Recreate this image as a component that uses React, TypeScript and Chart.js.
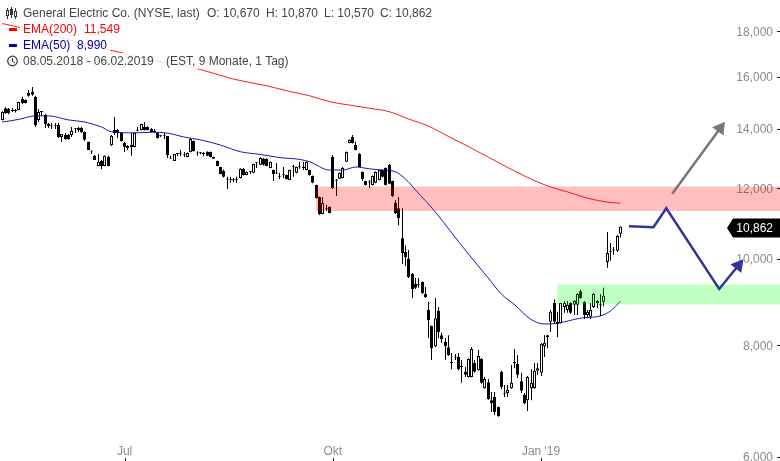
import React, { useEffect, useRef } from "react";
import { Chart, registerables } from "chart.js";

Chart.register(...registerables);

const opens = [14320,14760,14730,14690,14690,14690,15120,15080,15350,15390,15200,14320,14620,14500,14170,14100,14110,14130,13700,13770,13770,13770,13980,14020,14020,13880,13530,13220,13050,12710,12880,12710,13010,13420,13950,13950,13840,13490,13390,13420,13350,13920,13950,14060,14060,13990,13890,13840,13740,13740,13740,12980,12880,13110,13120,13090,13010,13180,13560,13150,
13150,13130,13180,13180,13010,12880,12680,12550,12300,12270,12270,12260,12320,12620,12420,12510,12490,12810,12750,12950,12950,12650,12590,12490,12370,12430,12420,12260,12680,12490,12670,12660,12580,12580,12390,12100,11730,11230,11380,11440,13010,12260,12300,12320,12850,13490,13700,13420,13110,12520,12230,12200,12100,12170,12260,12580,12650,12750,12230,11550,11400,
10550,10180,10000,9620,9370,9350,9420,9130,8760,8410,7980,8740,8210,8070,7960,7650,7770,7760,7570,7470,7370,7370,7640,7500,7720,7160,7270,6940,7000,6820,7470,7060,7070,7160,7650,7620,7290,7040,6940,7160,7160,7490,7450,7980,8170,8500,8920,8500,8470,8830,8760,8920,8880,8880,9200,8950,8650,8610,8830,8970,8880,8950,
9920,10170,10220,10210,10670];
const highs = [14640,14800,14770,14770,14730,15010,15200,15100,15470,15590,15240,14730,14650,14540,14210,14210,14210,14210,13810,13840,13810,14060,14020,14060,14060,13900,13530,13220,13080,13110,12910,13060,13050,13770,14430,13990,13860,13530,13420,13840,13850,14060,14180,14240,14090,14020,13990,13860,13770,13840,13740,13050,13110,13130,13250,13180,13160,13650,13580,13210,
13180,13180,13210,13200,13020,12890,12690,12600,12360,12360,12320,12360,12640,12650,12530,12550,12790,12830,13000,12980,12970,12860,12590,12810,12490,12680,12430,12590,12750,12690,12850,12850,12870,12600,12400,12110,11750,11730,11500,11450,13080,12290,12500,12680,13200,13620,13770,13530,13150,12530,12240,12260,12400,12530,12590,12600,12660,12780,12240,11640,11730,
11400,10360,10230,9640,9520,9520,9430,9300,8950,8420,9040,8830,8260,8150,8210,7840,7820,7840,7700,7560,7730,7960,7700,7900,7740,7370,7330,7090,7090,6830,7490,7220,7220,7600,7920,7800,7450,7070,7390,7520,7640,7640,8040,8210,8220,8760,9010,8720,8930,8970,8970,8940,8990,9150,9230,8960,8760,8920,9150,8990,9130,9280,
10720,10420,10310,10640,10870];
const lows = [14300,14550,14530,14620,14600,14680,14920,14940,15200,15240,14060,14240,14470,14020,14020,13990,13990,13670,13530,13600,13600,13700,13840,13880,13840,13560,13250,13110,12910,12700,12610,12700,12700,13390,13770,13670,13540,13180,13250,13050,13340,13910,13940,13930,13930,13860,13840,13650,13700,13630,12980,12950,12880,13040,13040,13010,13000,13170,13200,13050,
13100,13040,13040,13000,12940,12700,12440,12340,11980,12170,12200,12170,12310,12400,12410,12450,12480,12650,12740,12730,12700,12640,12230,12450,12290,12320,12280,12250,12360,12480,12620,12580,12570,12400,12160,11690,11200,11220,11320,11250,11980,11760,12290,12310,12840,13480,13470,13240,12670,12230,12090,12010,12090,12160,12250,12340,12090,12130,11730,11230,10910,
9870,9820,9520,9040,9250,9280,9130,9040,8150,7700,7960,8150,8050,7700,7780,7520,7700,7500,7260,7370,7360,7360,7450,7490,7240,7150,6950,6730,6680,6650,7140,7000,7000,7150,7540,7350,7070,6870,6750,6940,7150,7410,7390,7760,7940,8280,8470,8170,8460,8700,8700,8670,8650,8650,9020,8560,8580,8560,8810,8810,8630,8850,
9770,9950,10100,10180,10570];
const closes = [14620,14570,14580,14650,14650,15000,14960,14960,15240,15280,14130,14620,14640,14170,14100,14080,14090,13700,13810,13630,13630,13920,14000,13950,13880,13600,13250,13200,12910,12850,12710,13050,12710,13740,13840,13840,13560,13350,13320,13350,13840,13950,14170,13950,13950,13880,13880,13670,13730,13730,13080,12960,13110,13120,13100,13070,13150,13630,13210,13130,
13140,13110,13050,13010,12950,12710,12450,12360,12280,12250,12250,12250,12620,12420,12520,12530,12780,12800,12980,12750,12710,12850,12450,12470,12350,12410,12290,12580,12670,12680,12690,12650,12850,12420,12170,11700,11230,11550,11370,11260,12010,12240,12490,12650,13180,13600,13490,13250,12680,12290,12100,12180,12390,12520,12580,12360,12100,12140,11760,11260,11110,
10150,10050,9540,9250,9280,9340,9150,9060,8540,7940,8580,8280,8130,7980,7800,7640,7750,7520,7560,7410,7720,7920,7470,7780,7260,7330,6960,6890,6730,6660,7180,7050,7130,7260,7640,7410,7110,6890,7370,7260,7490,7540,8030,8050,8210,8720,8500,8450,8920,8920,8880,8700,8970,9130,9040,8650,8720,8760,9130,8920,8870,9090,
10150,10190,10240,10610,10862];

const ema200Index = [0,10,20,30,35,45,55,60,70,80,87,93,99,105,111,117,123,129,135,141,147,153,159,165,171,177,183,187];
const ema200Values = [18370,18020,17630,17230,17070,16720,16460,16310,15910,15640,15410,15240,15010,14880,14760,14630,14350,14090,13720,13370,13010,12660,12340,12070,11890,11700,11580,11549];
const ema50Index = [0,5,10,14,20,25,30,33,40,45,50,55,60,66,72,78,84,90,93,99,103,107,111,115,119,122,125,131,136,141,147,151,155,160,164,168,175,181,184,187];
const ema50Values = [14240,14340,14470,14470,14320,14240,14060,13890,13850,13870,13840,13700,13600,13420,13190,13100,12990,12930,12850,12580,12580,12680,12620,12580,12520,12290,11950,11290,10690,10130,9520,9130,8880,8550,8450,8470,8580,8630,8740,8960];

const pinkBand = { from: 94.9, to: 236, high: 12057, low: 11318 };
const greenBand = { from: 167.9, to: 236, high: 9360, low: 8889 };
const greyArrowIndex = [202.7, 217.2];
const greyArrowValues = [11835, 14017];
const blueArrowIndex = [189.6, 197, 200.9, 216.9, 222.7];
const blueArrowValues = [10877, 10850, 11397, 9251, 9832];

const yTicks = [6000, 8000, 10000, 12000, 14000, 16000, 18000];
const xTickIndex = [37, 100, 163];
const xTickLabels = ["Jul", "Okt", "Jan '19"];
const lastPrice = 10862;

const FONT = "'Liberation Sans', Arial, sans-serif";
const GREY = "#8a8a8a";

const rows = [
  { top: 5, left: 20, width: 420 },
  { top: 21, left: 20, width: 105 },
  { top: 37, left: 20, width: 90 },
  { top: 53, left: 20, width: 272 },
];

export default function App() {
  const ref = useRef<HTMLCanvasElement>(null);
  useEffect(() => {
    const idx = opens.map((_, i) => i);
    const snap = {
      id: "snap",
      afterDatasetsUpdate(c: any) {
        c.data.datasets.forEach((d: any, i: number) => {
          if (d.type !== "bar") return;
          c.getDatasetMeta(i).data.forEach((el: any) => {
            el.x = Math.floor(el.x) + 0.5;
          });
        });
      },
    };
    const marks = {
      id: "marks",
      afterDraw(c: any) {
        const g = c.ctx;
        const { x, y } = c.scales;
        g.save();
        g.fillStyle = "#222";
        y.ticks.forEach((t: any) => g.fillRect(777, Math.round(y.getPixelForValue(t.value)), 3, 1));
        x.ticks.forEach((t: any) => g.fillRect(Math.round(x.getPixelForValue(t.value)), 458, 1, 3));
        const py = Math.round(y.getPixelForValue(lastPrice)) + 1;
        g.fillStyle = "#000";
        g.beginPath();
        g.moveTo(727, py);
        g.lineTo(733, py - 9.5);
        g.lineTo(780, py - 9.5);
        g.lineTo(780, py + 9.5);
        g.lineTo(733, py + 9.5);
        g.closePath();
        g.fill();
        g.fillStyle = "#fff";
        g.font = `12px ${FONT}`;
        g.textAlign = "right";
        g.textBaseline = "middle";
        g.fillText(lastPrice.toLocaleString("en-US"), 773, py + 0.5);
        g.restore();
      },
    };
    const band = (b: any, color: string, order: number) => ({
      type: "line",
      data: [{ x: b.from, y: b.high }, { x: b.to, y: b.high }],
      fill: { value: b.low },
      backgroundColor: color,
      borderWidth: 0,
      pointRadius: 0,
      order,
    });
    const pairs = (xs: number[], ys: number[]) => xs.map((x, i) => ({ x, y: ys[i] }));
    const chart = new Chart(ref.current as HTMLCanvasElement, {
      type: "bar",
      data: {
        datasets: [
          {
            type: "bar",
            data: idx.map((i) => ({ x: i, y: [lows[i], highs[i]] })),
            backgroundColor: "#000",
            barThickness: 1,
            grouped: false,
            inflateAmount: 0,
            minBarLength: 1,
            order: 10,
          },
          {
            type: "bar",
            data: idx.map((i) => ({ x: i, y: [opens[i], closes[i]] })),
            backgroundColor: idx.map((i) => (closes[i] >= opens[i] ? "#fff" : "#000")),
            borderColor: "#000",
            borderWidth: 1,
            borderSkipped: false,
            barThickness: 3,
            grouped: false,
            inflateAmount: 0,
            minBarLength: 1,
            order: 9,
          },
          {
            type: "line",
            data: pairs(ema200Index, ema200Values),
            borderColor: "#ff0000",
            borderWidth: 0.9,
            pointRadius: 0,
            cubicInterpolationMode: "monotone",
            order: 8,
          },
          {
            type: "line",
            data: pairs(ema50Index, ema50Values),
            borderColor: "#0000aa",
            borderWidth: 0.9,
            pointRadius: 0,
            cubicInterpolationMode: "monotone",
            order: 7,
          },
          band(pinkBand, "rgba(255,0,0,0.25)", 6),
          band(greenBand, "rgba(0,255,0,0.25)", 5),
          {
            type: "line",
            data: pairs(greyArrowIndex, greyArrowValues),
            borderColor: "#777",
            backgroundColor: "#777",
            borderWidth: 2.5,
            pointStyle: "triangle",
            pointRadius: [0, 8],
            pointBorderWidth: 0,
            rotation: 36,
            order: 4,
          },
          {
            type: "line",
            data: pairs(blueArrowIndex, blueArrowValues),
            borderColor: "#333399",
            backgroundColor: "#333399",
            borderWidth: 2.5,
            pointStyle: "triangle",
            pointRadius: [0, 0, 0, 0, 8],
            pointBorderWidth: 0,
            rotation: 39,
            order: 3,
          },
        ] as any,
      },
      options: {
        animation: false,
        responsive: false,
        maintainAspectRatio: false,
        layout: { padding: 0, autoPadding: false },
        plugins: { legend: { display: false }, tooltip: { enabled: false } },
        scales: {
          x: {
            type: "linear",
            min: -0.696,
            max: 235.3,
            offset: false,
            bounds: "data",
            grid: { display: false, drawTicks: false, offset: false },
            border: { display: false },
            afterBuildTicks: (s: any) => {
              s.ticks = xTickIndex.map((value) => ({ value }));
            },
            afterFit: (s: any) => {
              s.height = 20;
              s.paddingLeft = s.paddingRight = s.paddingTop = s.paddingBottom = 0;
            },
            ticks: {
              autoSkip: false,
              maxRotation: 0,
              minRotation: 0,
              padding: 3,
              color: GREY,
              font: { size: 12, family: FONT },
              callback: (v: any) => xTickLabels[xTickIndex.indexOf(v)],
            },
          },
          y: {
            type: "logarithmic",
            position: "right",
            min: 6246,
            max: 19521,
            bounds: "data",
            grid: { display: false, drawTicks: false },
            border: { display: false },
            afterBuildTicks: (s: any) => {
              s.ticks = yTicks.map((value) => ({ value }));
            },
            afterFit: (s: any) => {
              s.width = 0;
              s.paddingLeft = s.paddingRight = s.paddingTop = s.paddingBottom = 0;
            },
            ticks: {
              mirror: true,
              padding: -7,
              labelOffset: 1,
              color: GREY,
              font: { size: 12, family: FONT },
              callback: (v: any) => Number(v).toLocaleString("en-US"),
            },
          },
        },
      } as any,
      plugins: [snap, marks],
    } as any);
    return () => chart.destroy();
  }, []);

  const text = (left: number, top: number, s: string, color = "#444") => (
    <span style={{ position: "absolute", left, top, color, whiteSpace: "nowrap" }}>{s}</span>
  );

  return (
    <div style={{ position: "absolute", left: 0, top: 0, width: 780, height: 461, overflow: "hidden", background: "#fff" }}>
      <canvas ref={ref} width={780} height={461} style={{ position: "absolute", left: 0, top: 0, display: "block" }} />
      <div style={{ position: "absolute", left: 0, top: 0, width: 780, height: 80, font: `12px/16px ${FONT}` }}>
        {rows.map((r, i) => (
          <div key={i} style={{ position: "absolute", left: r.left, top: r.top, width: r.width, height: 16, background: "rgba(255,255,255,0.85)" }} />
        ))}
        <svg width={20} height={70} style={{ position: "absolute", left: 0, top: 0 }}>
          <path d="M7.5 8V19M11.5 7V18M15.5 8V19" stroke="#333" fill="none" />
          <rect x={6.5} y={10.5} width={2} height={5} fill="#fff" stroke="#333" />
          <rect x={10.5} y={9.5} width={2} height={5} fill="#333" stroke="#333" />
          <rect x={14.5} y={11.5} width={2} height={5} fill="#fff" stroke="#333" />
          <rect x={9} y={28} width={8} height={3} fill="#ff0000" />
          <rect x={9} y={44} width={8} height={3} fill="#0000aa" />
          <circle cx={12.5} cy={61} r={4.8} fill="none" stroke="#333" strokeWidth={1.2} />
          <path d="M12.5 58V61.5L15 63" stroke="#333" fill="none" />
        </svg>
        {text(23, 5, "General Electric Co. (NYSE, last)")}
        {text(207, 5, "O: 10,670")}
        {text(266, 5, "H: 10,870")}
        {text(324, 5, "L: 10,570")}
        {text(380, 5, "C: 10,862")}
        {text(23, 21, "EMA(200)", "#ff0000")}
        {text(84, 21, "11,549", "#ff0000")}
        {text(23, 37, "EMA(50)", "#0000aa")}
        {text(77, 37, "8,990", "#0000aa")}
        {text(23, 53, "08.05.2018 - 06.02.2019")}
        {text(166, 53, "(EST, 9 Monate, 1 Tag)")}
      </div>
    </div>
  );
}
